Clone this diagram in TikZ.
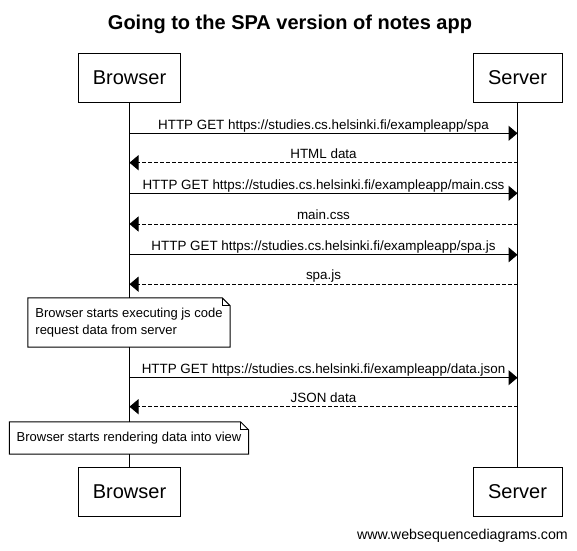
\documentclass[tikz,border=0pt]{standalone}
\usepackage{fontspec}
\setmainfont{Liberation Sans}
\usetikzlibrary{arrows.meta}
\tikzset{
  actor/.style={draw, line width=1pt, fill=white, minimum height=49pt, inner sep=0pt,
    font=\fontsize{20}{24}\selectfont},
  lifeline/.style={line width=1pt},
  req/.style={line width=1pt, -{Triangle[length=9pt,width=15pt]}},
  resp/.style={req, dash pattern=on 4pt off 2pt},
  lbl/.style={midway, anchor=base, yshift=4.3pt, inner sep=0pt, font=\fontsize{13.4}{15}\selectfont},
  notebox/.style={fill=white, inner ysep=0pt, inner xsep=7pt, align=left,
    font=\fontsize{13}{17.5}\selectfont},
  notebd/.style={line width=1pt, line join=miter},
}
\begin{document}
\begin{tikzpicture}[x=1pt,y=-1pt]
\useasboundingbox[fill=white] (0,0) rectangle (577,550);

\node[anchor=base, font=\fontsize{20}{24}\selectfont\bfseries] (title) at (290,29) {Going to the SPA version of notes app};

\node[actor, minimum width=102pt] (bt) at (129.5,77.5) {Browser};
\node[actor, minimum width=89pt] (st) at (517.5,77.5) {Server};
\node[actor, minimum width=102pt] (bb) at (129.5,491.5) {Browser};
\node[actor, minimum width=89pt] (sb) at (517.5,491.5) {Server};

\draw[lifeline] (bt.south) -- (bb.north);
\draw[lifeline] (st.south) -- (sb.north);

% message anchor points on the lifelines
\foreach \i/\y in {1/133.3, 2/162.7, 3/193.3, 4/224, 5/254.8, 6/284.2, 7/377.7, 8/406.7} {
  \coordinate (b\i) at (129.5,\y);
  \coordinate (s\i) at (517.5,\y);
}

\draw[req] (b1) -- node[lbl] {HTTP GET https://studies.cs.helsinki.fi/exampleapp/spa} (s1);
\draw[resp] (s2) -- node[lbl] {HTML data} (b2);
\draw[req] (b3) -- node[lbl] {HTTP GET https://studies.cs.helsinki.fi/exampleapp/main.css} (s3);
\draw[resp] (s4) -- node[lbl] {main.css} (b4);
\draw[req] (b5) -- node[lbl] {HTTP GET https://studies.cs.helsinki.fi/exampleapp/spa.js} (s5);
\draw[resp] (s6) -- node[lbl] {spa.js} (b6);
\draw[req] (b7) -- node[lbl] {HTTP GET https://studies.cs.helsinki.fi/exampleapp/data.json} (s7);
\draw[resp] (s8) -- node[lbl] {JSON data} (b8);

% note 1
\node[notebox, minimum width=202pt, minimum height=49pt] (n1) at (129,322.5)
  {Browser starts executing js code\\request data from server};
\draw[notebd] (n1.north west) -- ([xshift=-8pt]n1.north east) -- ([yshift=-8pt]n1.north east)
  -- (n1.south east) -- (n1.south west) -- cycle;
\draw[notebd] ([xshift=-8pt]n1.north east) -- ++(0,8) -- ([yshift=-8pt]n1.north east);

% note 2
\node[notebox, minimum width=238pt, minimum height=32pt] (n2) at (129,438)
  {Browser starts rendering data into view};
\draw[notebd] (n2.north west) -- ([xshift=-8pt]n2.north east) -- ([yshift=-8pt]n2.north east)
  -- (n2.south east) -- (n2.south west) -- cycle;
\draw[notebd] ([xshift=-8pt]n2.north east) -- ++(0,8) -- ([yshift=-8pt]n2.north east);

\node[anchor=base east, inner sep=0pt, font=\fontsize{14.2}{16}\selectfont] (credit) at (568,539.5) {www.websequencediagrams.com};
\end{tikzpicture}
\end{document}
